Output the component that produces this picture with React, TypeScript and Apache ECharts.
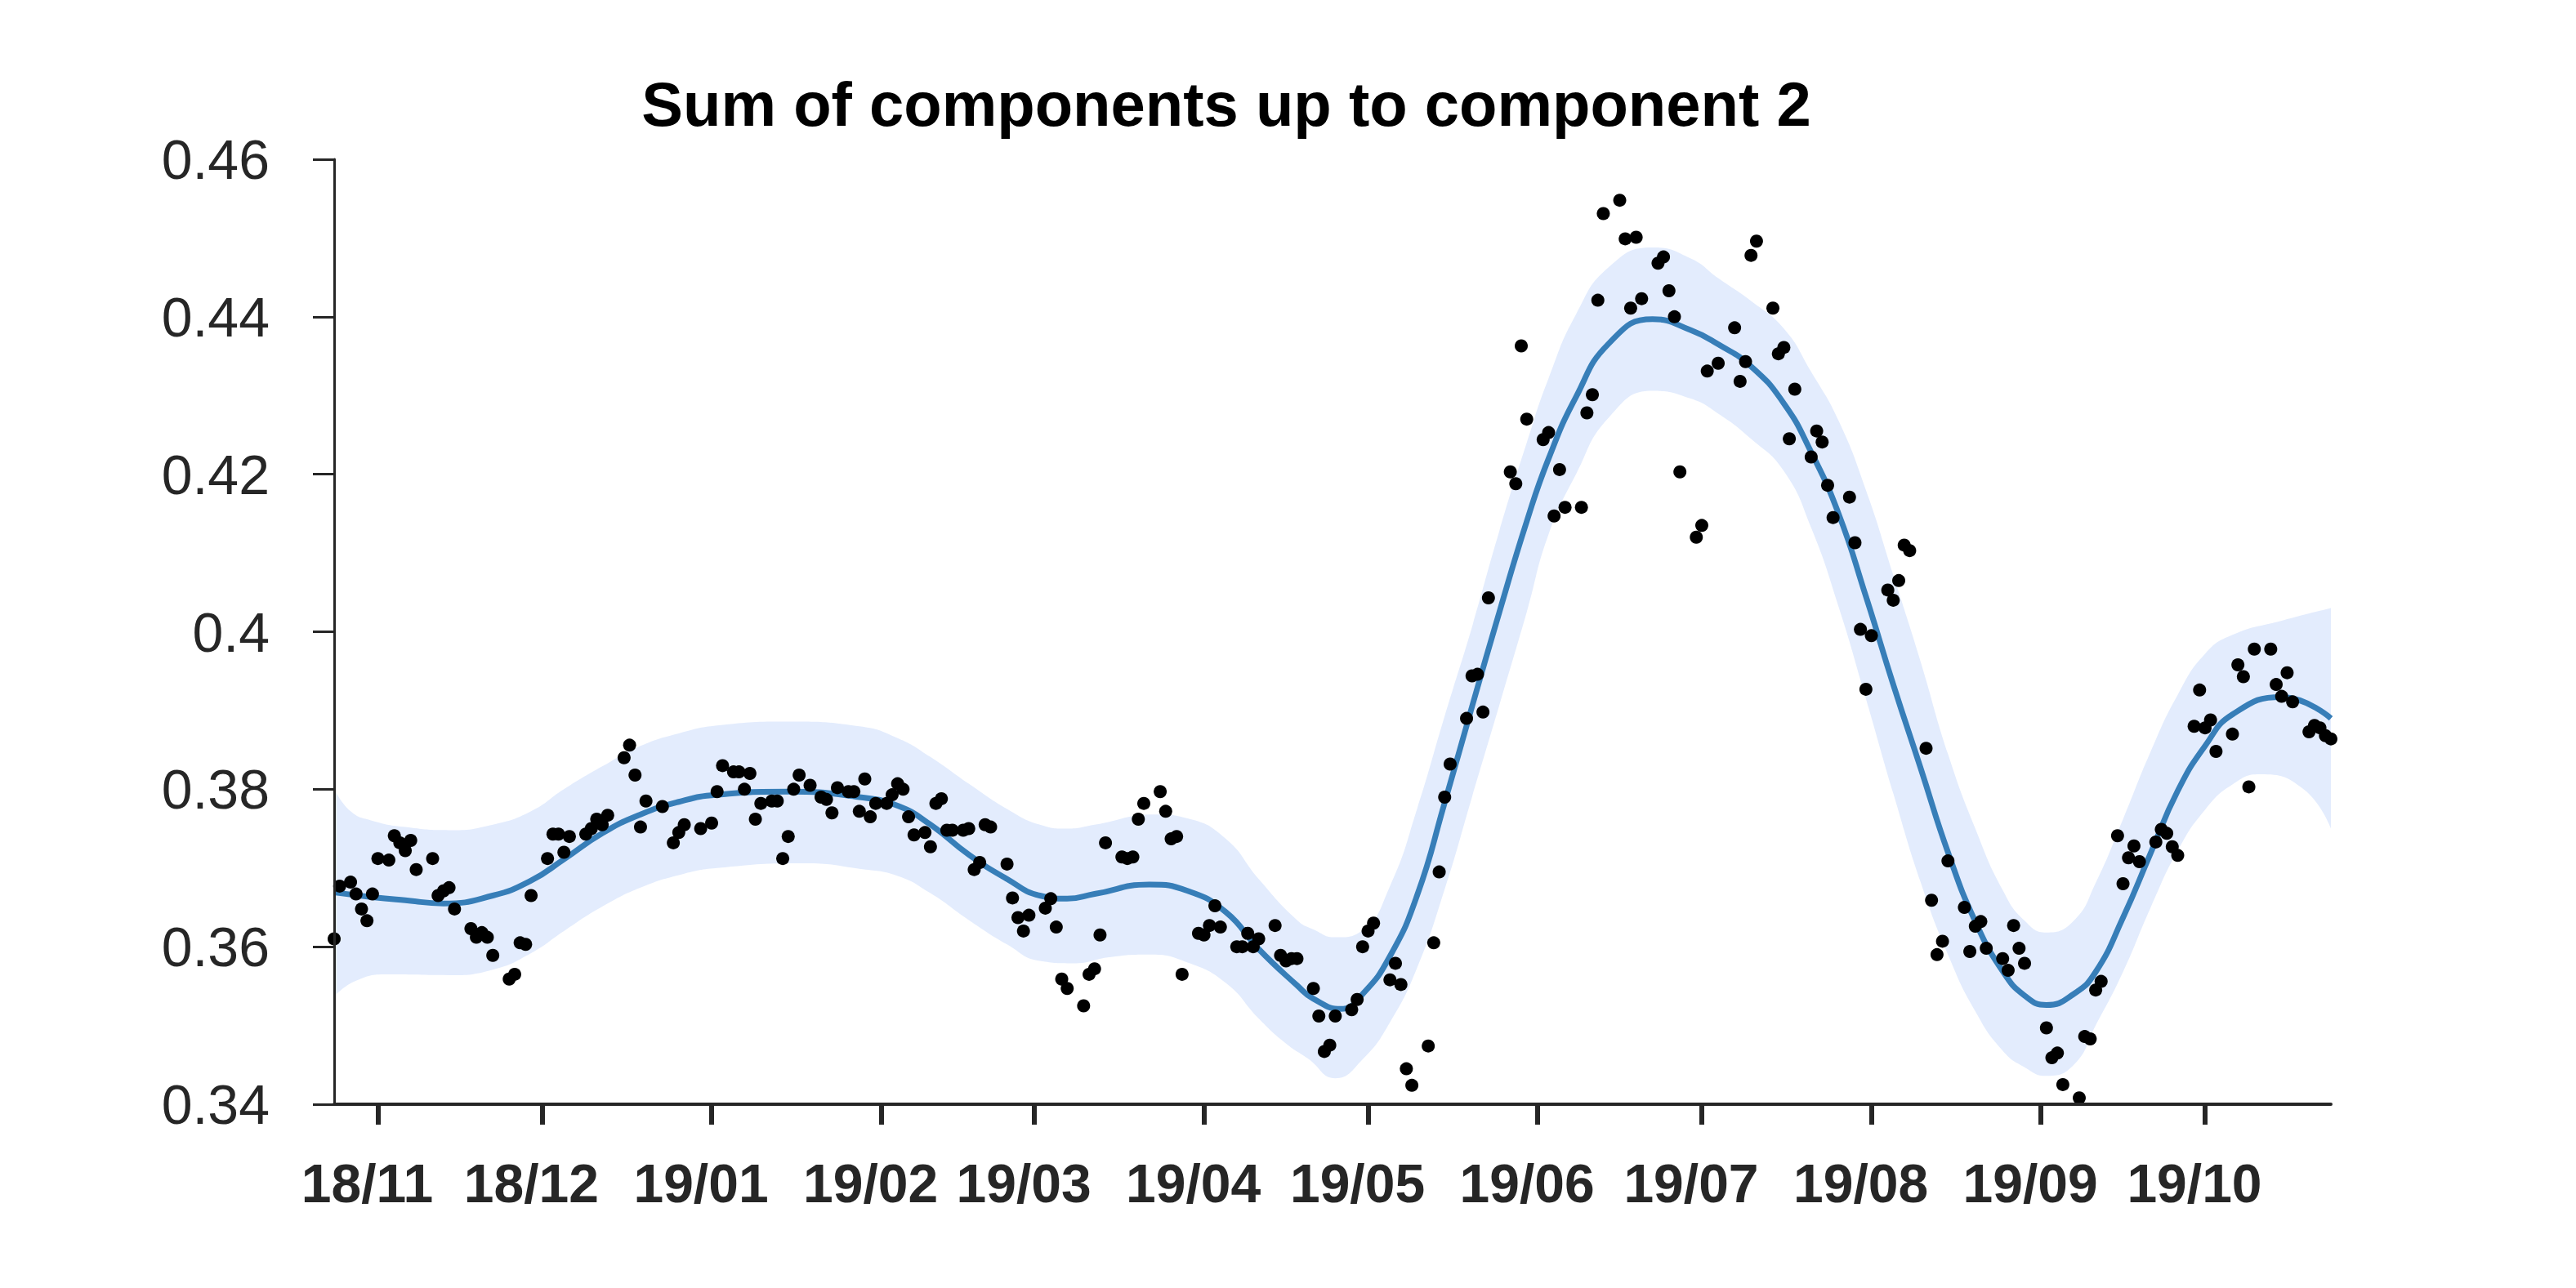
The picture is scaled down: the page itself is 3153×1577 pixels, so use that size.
import React, { useEffect, useRef } from 'react';
import * as echarts from 'echarts';

// ---------- data ----------
const TITLE = 'Sum of components up to component 2';

// x values are days counted from 2018-11-01 (day 0)
const BASE_DATE: [number, number, number] = [2018, 10, 1];
const X_START_DAY = -8; // 2018-10-24
const X_END_DAY = 357; // 2019-10-24

const tickMonths: [number, number][] = [
  [2018, 10], [2018, 11], [2019, 0], [2019, 1], [2019, 2], [2019, 3],
  [2019, 4], [2019, 5], [2019, 6], [2019, 7], [2019, 8], [2019, 9],
];
const tickLabels = ['18/11', '18/12', '19/01', '19/02', '19/03', '19/04', '19/05', '19/06', '19/07', '19/08', '19/09', '19/10'];

const Y_MIN = 0.34;
const Y_MAX = 0.46;
const Y_STEP = 0.02;

// observed points: [day, value]
const observed: [number, number][] = [
  [-8, 0.3610], [-7, 0.3677], [-5, 0.3682], [-4, 0.3667], [-3, 0.3648], [-2, 0.3633], [-1, 0.3667], [0, 0.3712], [2, 0.3710], [3, 0.3741], [4, 0.3732], [5, 0.3722], [6, 0.3735], [7, 0.3698],
  [10, 0.3712], [11, 0.3665], [12, 0.3671], [13, 0.3675], [14, 0.3648],
  [17, 0.3623], [18, 0.3612], [19, 0.3618], [20, 0.3612], [21, 0.3589],
  [24, 0.3559], [25, 0.3565], [26, 0.3605], [27, 0.3603], [28, 0.3665],
  [31, 0.3712], [32, 0.3743], [33, 0.3743], [34, 0.3720], [35, 0.3740],
  [38, 0.3743], [39, 0.3750], [40, 0.3762], [41, 0.3755], [42, 0.3767],
  [45, 0.3840], [46, 0.3856], [47, 0.3818], [48, 0.3752], [49, 0.3785],
  [52, 0.3778], [54, 0.3732], [55, 0.3745], [56, 0.3755],
  [59, 0.3750], [61, 0.3757], [62, 0.3797], [63, 0.3830],
  [65, 0.3822], [66, 0.3822], [67, 0.3800], [68, 0.3820], [69, 0.3762], [70, 0.3782],
  [72, 0.3785], [73, 0.3785], [74, 0.3712], [75, 0.3740], [76, 0.3800], [77, 0.3818],
  [79, 0.3805], [81, 0.3790], [82, 0.3787], [83, 0.3770], [84, 0.3802],
  [86, 0.3797], [87, 0.3797], [88, 0.3772], [89, 0.3813], [90, 0.3765], [91, 0.3782],
  [93, 0.3782], [94, 0.3793], [95, 0.3807], [96, 0.3800], [97, 0.3765], [98, 0.3742],
  [100, 0.3745], [101, 0.3727], [102, 0.3782], [103, 0.3788], [104, 0.3748], [105, 0.3748],
  [107, 0.3748], [108, 0.3750], [109, 0.3698], [110, 0.3707], [111, 0.3755], [112, 0.3752],
  [115, 0.3705], [116, 0.3662], [117, 0.3637], [118, 0.3620], [119, 0.3640],
  [122, 0.3649], [123, 0.3661], [124, 0.3625], [125, 0.3559], [126, 0.3547],
  [129, 0.3525], [130, 0.3565], [131, 0.3572], [132, 0.3615], [133, 0.3732],
  [136, 0.3714], [137, 0.3712], [138, 0.3714], [139, 0.3762], [140, 0.3782],
  [143, 0.3797], [144, 0.3772], [145, 0.3737], [146, 0.3740], [147, 0.3565],
  [150, 0.3617], [151, 0.3615], [152, 0.3627], [153, 0.3652], [154, 0.3625],
  [157, 0.3600], [158, 0.3600], [159, 0.3617], [160, 0.3600], [161, 0.3610],
  [164, 0.3627], [165, 0.3589], [166, 0.3582], [167, 0.3585], [168, 0.3585],
  [171, 0.3547], [172, 0.3512], [173, 0.3467], [174, 0.3475], [175, 0.3512],
  [178, 0.3520], [179, 0.3533], [180, 0.3600], [181, 0.3620], [182, 0.3630],
  [185, 0.3558], [186, 0.3579], [187, 0.3552], [188, 0.3445], [189, 0.3424],
  [192, 0.3474], [193, 0.3605], [194, 0.3695], [195, 0.3790], [196, 0.3832],
  [199, 0.3890], [200, 0.3944], [201, 0.3946], [202, 0.3898], [203, 0.4043],
  [207, 0.4203], [208, 0.4188], [209, 0.4363], [210, 0.4270],
  [213, 0.4244], [214, 0.4253], [215, 0.4147], [216, 0.4206], [217, 0.4158],
  [220, 0.4158], [221, 0.4278], [222, 0.4301], [223, 0.4421], [224, 0.4531],
  [227, 0.4548], [228, 0.4499], [229, 0.4411], [230, 0.4501], [231, 0.4423],
  [234, 0.4468], [235, 0.4476], [236, 0.4433], [237, 0.4400], [238, 0.4203],
  [241, 0.4120], [242, 0.4135], [243, 0.4331], [245, 0.4341],
  [248, 0.4386], [249, 0.4318], [250, 0.4343], [251, 0.4478], [252, 0.4496],
  [255, 0.4411], [256, 0.4353], [257, 0.4361], [258, 0.4245], [259, 0.4308],
  [262, 0.4222], [263, 0.4255], [264, 0.4241], [265, 0.4186], [266, 0.4145],
  [269, 0.4171], [270, 0.4113], [271, 0.4003], [272, 0.3927], [273, 0.3995],
  [276, 0.4053], [277, 0.4040], [278, 0.4065], [279, 0.4110], [280, 0.4103],
  [283, 0.3852], [284, 0.3659], [285, 0.3590], [286, 0.3607], [287, 0.3709],
  [290, 0.3650], [291, 0.3594], [292, 0.3626], [293, 0.3632], [294, 0.3598],
  [297, 0.3585], [298, 0.3570], [299, 0.3627], [300, 0.3598], [301, 0.3579],
  [305, 0.3497], [306, 0.3459], [307, 0.3465], [308, 0.3425],
  [311, 0.3408], [312, 0.3486], [313, 0.3483], [314, 0.3545], [315, 0.3556],
  [318, 0.3741], [319, 0.3680], [320, 0.3713], [321, 0.3728], [322, 0.3708],
  [325, 0.3733], [326, 0.3749], [327, 0.3744], [328, 0.3727], [329, 0.3716],
  [332, 0.3880], [333, 0.3926], [334, 0.3878], [335, 0.3888], [336, 0.3848],
  [339, 0.3870], [340, 0.3958], [341, 0.3943], [342, 0.3803], [343, 0.3978],
  [346, 0.3978], [347, 0.3933], [348, 0.3918], [349, 0.3948], [350, 0.3911],
  [353, 0.3873], [354, 0.3881], [355, 0.3878], [356, 0.3868], [357, 0.3864],
];

// fitted mean curve
const meanDays = [-8, -1, 5, 12, 21, 28, 34, 41, 48, 55, 62, 75, 88, 95, 101, 108, 115, 121, 126, 131, 141, 148, 155, 161, 168, 171, 176, 180, 185, 190, 195, 200, 205, 210, 214, 219, 225, 233, 240, 245, 251, 257, 262, 267, 272, 277, 282, 287, 292, 297, 301, 305, 310, 314, 319, 324, 329, 334, 339, 348, 357];
const meanValues = [0.3669, 0.3663, 0.3659, 0.3655, 0.3665, 0.3684, 0.3711, 0.3744, 0.3768, 0.3784, 0.3793, 0.3797, 0.3790, 0.3779, 0.3755, 0.3717, 0.3686, 0.3665, 0.3661, 0.3667, 0.3679, 0.3671, 0.3644, 0.3597, 0.3551, 0.3534, 0.3521, 0.3540, 0.3588, 0.3666, 0.3783, 0.3905, 0.4025, 0.4140, 0.4220, 0.4298, 0.4366, 0.4397, 0.4383, 0.4365, 0.4337, 0.4290, 0.4228, 0.4150, 0.4045, 0.3933, 0.3827, 0.3720, 0.3632, 0.3569, 0.3538, 0.3526, 0.3540, 0.3568, 0.3637, 0.3718, 0.3798, 0.3855, 0.3895, 0.3917, 0.3890];

// upper edge of the shaded band
const upperDays = [-8, -5, -1, 5, 13, 21, 28, 34, 41, 48, 55, 62, 75, 88, 95, 101, 108, 115, 121, 126, 131, 142, 148, 155, 161, 168, 171, 175, 180, 185, 190, 195, 200, 205, 210, 214, 219, 225, 233, 240, 245, 251, 257, 262, 267, 272, 277, 282, 287, 292, 297, 301, 305, 310, 314, 319, 324, 329, 334, 339, 348, 357];
const upperValues = [0.3801, 0.3772, 0.3760, 0.3752, 0.3748, 0.3755, 0.3772, 0.3800, 0.3829, 0.3855, 0.3871, 0.3881, 0.3886, 0.3880, 0.3865, 0.3841, 0.3807, 0.3775, 0.3755, 0.3750, 0.3755, 0.3768, 0.3763, 0.3737, 0.3686, 0.3634, 0.3622, 0.3612, 0.3621, 0.3677, 0.3776, 0.3893, 0.4006, 0.4128, 0.4240, 0.4322, 0.4403, 0.4463, 0.4488, 0.4474, 0.4449, 0.4420, 0.4385, 0.4330, 0.4268, 0.4180, 0.4072, 0.3962, 0.3845, 0.3750, 0.3672, 0.3633, 0.3618, 0.3633, 0.3681, 0.3762, 0.3847, 0.3920, 0.3972, 0.3996, 0.4014, 0.4030];

// lower edge of the shaded band
const lowerDays = [-8, -4, 2, 13, 21, 28, 34, 41, 48, 55, 62, 78, 88, 95, 101, 108, 115, 121, 127, 134, 141, 148, 155, 161, 166, 170, 175, 180, 185, 190, 195, 200, 205, 210, 214, 219, 225, 233, 240, 245, 251, 257, 262, 267, 272, 277, 282, 287, 292, 297, 301, 305, 310, 314, 319, 324, 329, 334, 339, 344, 352, 357];
const lowerValues = [0.3537, 0.3557, 0.3565, 0.3564, 0.3571, 0.3592, 0.3620, 0.3651, 0.3675, 0.3691, 0.3700, 0.3706, 0.3699, 0.3690, 0.3668, 0.3634, 0.3603, 0.3582, 0.3579, 0.3587, 0.3590, 0.3580, 0.3554, 0.3509, 0.3477, 0.3458, 0.3433, 0.3457, 0.3504, 0.3574, 0.3673, 0.3790, 0.3907, 0.4025, 0.4124, 0.4200, 0.4272, 0.4306, 0.4296, 0.4277, 0.4245, 0.4204, 0.4132, 0.4032, 0.3915, 0.3795, 0.3682, 0.3590, 0.3518, 0.3468, 0.3447, 0.3436, 0.3450, 0.3500, 0.3568, 0.3649, 0.3722, 0.3774, 0.3806, 0.3819, 0.3800, 0.3750];

// ---------- helpers ----------
const dayToTime = (d: number) => new Date(BASE_DATE[0], BASE_DATE[1], BASE_DATE[2] + d).getTime();
const tickTimes = tickMonths.map(([y, m]) => new Date(y, m, 1).getTime());

const FONT = '"Liberation Sans", Arial, Helvetica, sans-serif';
const TEXT = '#262626';
const LINE_BLUE = '#377eb8';
const BAND = '#e3ecfd';
const SMOOTH = 0.5;

export default function App() {
  const ref = useRef<HTMLDivElement>(null);

  useEffect(() => {
    if (!ref.current) return;
    const chart = echarts.init(ref.current, undefined, { renderer: 'svg' });

    const upperData = upperDays.map((d, i) => [dayToTime(d), upperValues[i]]);
    const lowerData = lowerDays.map((d, i) => [dayToTime(d), lowerValues[i]]);
    const meanData = meanDays.map((d, i) => [dayToTime(d), meanValues[i]]);
    const pointData = observed.map(([d, v]) => [dayToTime(d), v]);

    chart.setOption({
      animation: false,
      backgroundColor: '#ffffff',
      title: {
        text: TITLE,
        left: 1501,
        top: 89,
        padding: 0,
        textAlign: 'center',
        textStyle: { fontFamily: FONT, fontSize: 76, fontWeight: 'bold', color: '#000000' },
      },
      grid: { left: 409, right: 300, top: 195, bottom: 225, containLabel: false },
      xAxis: {
        type: 'value',
        min: dayToTime(X_START_DAY),
        max: dayToTime(X_END_DAY),
        z: 10,
        axisLine: { show: true, onZero: false, lineStyle: { color: TEXT, width: 4 } },
        axisTick: {
          show: true,
          inside: false,
          length: 25,
          customValues: tickTimes,
          lineStyle: { color: TEXT, width: 6 },
        },
        axisLabel: {
          show: true,
          customValues: tickTimes,
          margin: 64,
          fontFamily: FONT,
          fontSize: 66,
          fontWeight: 'bold',
          color: TEXT,
          padding: [0, 26, 0, 0],
          formatter: (val: number) => {
            const idx = tickTimes.indexOf(val);
            return idx >= 0 ? tickLabels[idx] : '';
          },
        },
        splitLine: { show: false },
      },
      yAxis: {
        type: 'value',
        min: Y_MIN,
        max: Y_MAX,
        interval: Y_STEP,
        z: 10,
        axisLine: { show: true, lineStyle: { color: TEXT, width: 3 } },
        axisTick: { show: true, inside: false, length: 26, lineStyle: { color: TEXT, width: 3 } },
        axisLabel: { margin: 79, fontFamily: FONT, fontSize: 68, color: TEXT },
        splitLine: { show: false },
      },
      series: [
        {
          // band: filled from the upper edge down to the bottom of the plot
          name: 'upper',
          type: 'line',
          data: upperData,
          smooth: SMOOTH,
          symbol: 'none',
          lineStyle: { width: 0, opacity: 0 },
          areaStyle: { color: BAND, opacity: 1, origin: 'start' },
          silent: true,
          z: 1,
        },
        {
          // area below the lower edge is painted back to the background colour
          name: 'lower',
          type: 'line',
          data: lowerData,
          smooth: SMOOTH,
          symbol: 'none',
          lineStyle: { width: 0, opacity: 0 },
          areaStyle: { color: '#ffffff', opacity: 1, origin: 'start' },
          silent: true,
          z: 2,
        },
        {
          name: 'mean',
          type: 'line',
          data: meanData,
          smooth: SMOOTH,
          symbol: 'none',
          lineStyle: { color: LINE_BLUE, width: 7 },
          z: 3,
        },
        {
          name: 'observed',
          type: 'scatter',
          data: pointData,
          symbol: 'circle',
          symbolSize: 16,
          itemStyle: { color: '#000000', opacity: 1 },
          z: 4,
        },
      ],
    });

    return () => chart.dispose();
  }, []);

  return (
    <div
      ref={ref}
      style={{ position: 'absolute', left: 0, top: 0, width: '3153px', height: '1577px', background: '#fff' }}
    />
  );
}
